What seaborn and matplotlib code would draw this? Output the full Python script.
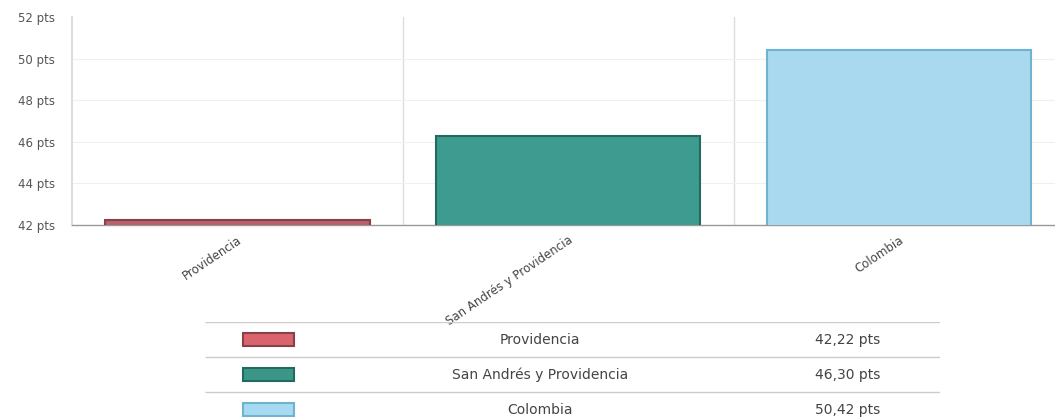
import matplotlib
matplotlib.use("Agg")
import matplotlib.pyplot as plt
import seaborn as sns
import pandas as pd

categories = ["Providencia", "San Andrés y Providencia", "Colombia"]
values = [42.22, 46.30, 50.42]
value_labels = ["42,22 pts", "46,30 pts", "50,42 pts"]
bar_colors = ["#b8636b", "#3d9c8f", "#a9d9ee"]
edge_colors = ["#8a4048", "#24695f", "#6fb3d0"]
swatch_colors = ["#d9646e", "#3a9787", "#a6daf0"]
yticks = [42, 44, 46, 48, 50, 52]

sns.set_theme(style="white")
plt.rcParams["font.family"] = ["DejaVu Sans"]

df = pd.DataFrame({"region": categories, "puntaje": values})

fig = plt.figure(figsize=(10.55, 4.18), dpi=100)
ax = fig.add_axes([0.068, 0.4617, 0.941, 0.4976])

sns.barplot(data=df, x="region", y="puntaje", hue="region", palette=bar_colors,
            width=0.8, legend=False, ax=ax, saturation=1)
for patch, ec in zip(ax.patches, edge_colors):
    patch.set_edgecolor(ec)
    patch.set_linewidth(1.5)
    patch.set_zorder(3)

ax.set_ylim(42, 52)
ax.set_xlim(-0.5, 2.5)
ax.set_yticks(yticks)
ax.set_yticklabels([f"{t} pts" for t in yticks], fontsize=8.5, color="#555555")
ax.set_xticks(range(len(categories)))
ax.set_xticklabels(categories, rotation=34, ha="right", rotation_mode="anchor",
                   fontsize=8.5, color="#444444")
ax.tick_params(axis="y", length=0, pad=12)
ax.tick_params(axis="x", length=3, color="#999999", pad=3)
ax.set_xlabel("")
ax.set_ylabel("")

# grid: category boundaries and faint horizontal lines
for b in [0.5, 1.5]:
    ax.axvline(b, color="#dddddd", lw=1, zorder=0)
for t in yticks[1:-1]:
    ax.axhline(t, color="#f0f0f0", lw=0.8, zorder=0)

for s in ["top", "right"]:
    ax.spines[s].set_visible(False)
ax.spines["left"].set_color("#dddddd")
ax.spines["left"].set_linewidth(1.5)
ax.spines["bottom"].set_color("#999999")
ax.spines["bottom"].set_linewidth(1)

# legend table
tab = fig.add_axes([0.194, -0.0215, 0.697, 0.251])
tab.set_xlim(0, 1)
tab.set_ylim(0, 3)
tab.axis("off")
for i, (cat, lab, sc, ec) in enumerate(zip(categories, value_labels, swatch_colors, edge_colors)):
    yc = 2.5 - i
    tab.hlines(yc + 0.5, 0, 1, color="#cccccc", lw=1)
    tab.add_patch(plt.Rectangle((0.052, yc - 0.19), 0.07, 0.38, facecolor=sc,
                                edgecolor=ec, lw=1.5))
    tab.text(0.456, yc, cat, ha="center", va="center", fontsize=10, color="#444444")
    tab.text(0.875, yc, lab, ha="center", va="center", fontsize=10, color="#444444")

fig.savefig("out.png", dpi=100)
